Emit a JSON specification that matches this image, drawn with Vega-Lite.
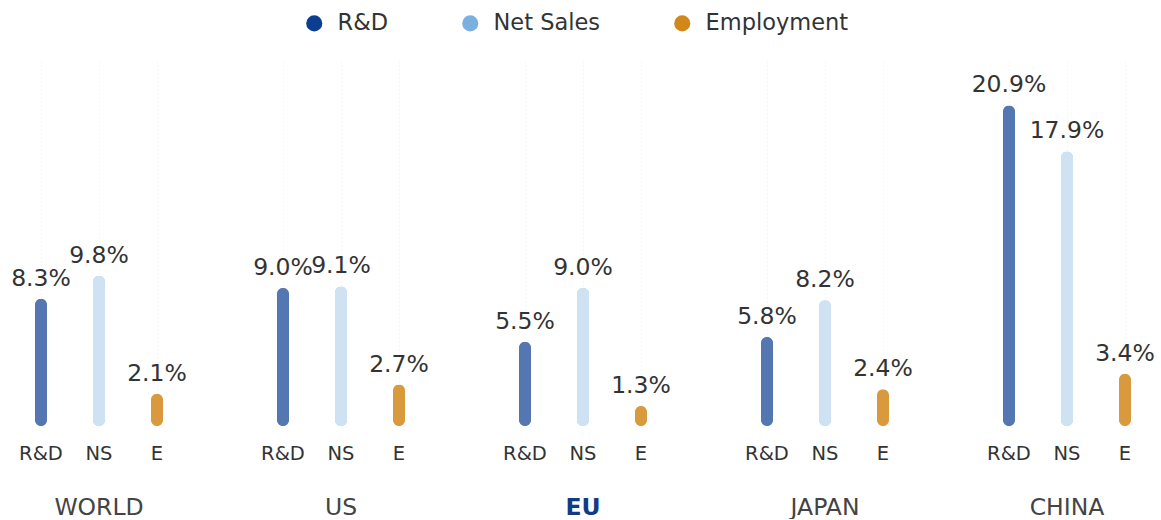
{
  "$schema": "https://vega.github.io/schema/vega-lite/v6.json",
  "padding": {"top": 12, "left": 11, "right": 0, "bottom": 0},
  "bounds": "flush",
  "background": "white",
  "config": {"view": {"stroke": null}, "font": "DejaVu Sans"},
  "data": {"values": [
    {"region": "WORLD", "metric": "R&D", "value": 8.3},
    {"region": "WORLD", "metric": "NS", "value": 9.8},
    {"region": "WORLD", "metric": "E", "value": 2.1},
    {"region": "US", "metric": "R&D", "value": 9.0},
    {"region": "US", "metric": "NS", "value": 9.1},
    {"region": "US", "metric": "E", "value": 2.7},
    {"region": "EU", "metric": "R&D", "value": 5.5},
    {"region": "EU", "metric": "NS", "value": 9.0},
    {"region": "EU", "metric": "E", "value": 1.3},
    {"region": "JAPAN", "metric": "R&D", "value": 5.8},
    {"region": "JAPAN", "metric": "NS", "value": 8.2},
    {"region": "JAPAN", "metric": "E", "value": 2.4},
    {"region": "CHINA", "metric": "R&D", "value": 20.9},
    {"region": "CHINA", "metric": "NS", "value": 17.9},
    {"region": "CHINA", "metric": "E", "value": 3.4}
  ]},
  "transform": [
    {"calculate": "format(datum.value, '.1f') + '%'", "as": "label"},
    {"calculate": "datum.metric === 'R&D' ? 'R&D' : datum.metric === 'NS' ? 'Net Sales' : 'Employment'", "as": "series"}
  ],
  "facet": {
    "column": {
      "field": "region",
      "type": "nominal",
      "sort": ["WORLD", "US", "EU", "JAPAN", "CHINA"],
      "title": null,
      "header": {
        "labelOrient": "bottom",
        "labelFontSize": 23.5,
        "labelFont": "DejaVu Sans",
        "labelColor": {"expr": "parent.region === 'EU' ? '#123b85' : '#444444'"},
        "labelFontWeight": {"expr": "parent.region === 'EU' ? 'bold' : 'normal'"},
        "labelPadding": 33
      }
    }
  },
  "spacing": 68,
  "spec": {
    "width": 174,
    "height": 365,
    "encoding": {
      "x": {
        "field": "metric",
        "type": "nominal",
        "sort": ["R&D", "NS", "E"],
        "scale": {"paddingInner": 0, "paddingOuter": 0},
        "axis": {
          "title": null,
          "labelAngle": 0,
          "ticks": false,
          "domain": false,
          "labelFontSize": 19.5,
          "labelColor": "#333333",
          "labelPadding": 18,
          "grid": true,
          "gridColor": "#ececec",
          "gridDash": [1, 3]
        }
      },
      "y": {
        "field": "value",
        "type": "quantitative",
        "scale": {"domain": [0, 23.8]},
        "axis": null
      }
    },
    "layer": [
      {
        "mark": {"type": "bar", "width": 12, "cornerRadius": 6},
        "encoding": {
          "color": {
            "field": "series",
            "type": "nominal",
            "sort": ["R&D", "Net Sales", "Employment"],
            "scale": {"domain": ["R&D", "Net Sales", "Employment"], "range": ["#0b3d91", "#7ab0de", "#d2871a"]},
            "legend": {
              "title": null,
              "orient": "none",
              "direction": "horizontal",
              "legendX": 291,
              "legendY": -49,
              "symbolType": "circle",
              "symbolSize": 260,
              "symbolOpacity": 1,
              "labelFontSize": 22.5,
              "labelColor": "#333333",
              "columnPadding": 70,
              "labelOffset": 12,
              "symbolStrokeWidth": 0
            }
          }
        }
      },
      {
        "mark": {"type": "bar", "width": 12, "cornerRadius": 6, "color": "white"},
        "encoding": {
          "opacity": {
            "field": "metric",
            "type": "nominal",
            "scale": {"type": "ordinal", "domain": ["R&D", "NS", "E"], "range": [0.3, 0.63, 0.16]},
            "legend": null
          }
        }
      },
      {
        "mark": {"type": "text", "baseline": "bottom", "dy": -8, "fontSize": 23.5, "color": "#333333"},
        "encoding": {"text": {"field": "label"}}
      }
    ]
  }
}
